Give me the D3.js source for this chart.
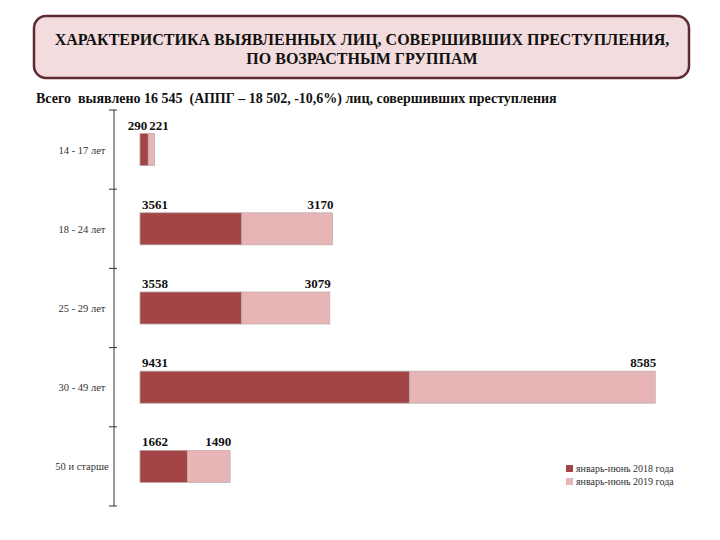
<!DOCTYPE html>
<html><head><meta charset="utf-8">
<script src="https://cdn.jsdelivr.net/npm/d3@7"></script>
<style>body{margin:0;background:#fff}svg{display:block}</style>
</head><body>
<svg id="c" width="720" height="540"></svg>
<script>
const categories = ["14 - 17 лет", "18 - 24 лет", "25 - 29 лет", "30 - 49 лет", "50 и старше"];
const values2018 = [290, 3561, 3558, 9431, 1662];
const values2019 = [221, 3170, 3079, 8585, 1490];
const seriesNames = ["январь-июнь 2018 года", "январь-июнь 2019 года"];
const titleLines = ["ХАРАКТЕРИСТИКА ВЫЯВЛЕННЫХ ЛИЦ, СОВЕРШИВШИХ ПРЕСТУПЛЕНИЯ,", "ПО ВОЗРАСТНЫМ ГРУППАМ"];
const subtitle = "Всего  выявлено 16 545  (АППГ – 18 502, -10,6%) лиц, совершивших преступления";

const colors = ["#a34447", "#e7b5b6"];
const serif = "'Liberation Serif','DejaVu Serif',serif";
const svg = d3.select("#c");

// Title box
svg.append("rect").attr("x", 34).attr("y", 16).attr("width", 655).attr("height", 62)
  .attr("rx", 12).attr("fill", "#f3dcdd").attr("stroke", "#5e2a2f").attr("stroke-width", 2.5);
svg.selectAll("text.title").data(titleLines).join("text").attr("class", "title")
  .attr("x", 362).attr("y", (d, i) => 45 + i * 19)
  .attr("text-anchor", "middle").attr("font-family", serif).attr("font-weight", "bold")
  .attr("font-size", 16).attr("fill", "#111").text(d => d);
svg.append("text").attr("x", 36).attr("y", 103).attr("font-family", serif)
  .attr("font-weight", "bold").attr("font-size", 14).attr("fill", "#111")
  .attr("xml:space", "preserve").style("white-space", "pre").text(subtitle);

// Scales
const x = d3.scaleLinear().domain([0, 20000]).range([140, 712]);
const y = d3.scaleBand().domain(categories).range([110, 506]).paddingInner(0).paddingOuter(0);
const barH = 32;

// Axis
const axisX = 114;
svg.append("line").attr("x1", axisX).attr("x2", axisX).attr("y1", 110).attr("y2", 506)
  .attr("stroke", "#333").attr("stroke-width", 1);
const boundaries = categories.map(c => y(c)).concat([y.range()[1]]);
svg.selectAll("line.tk").data(boundaries).join("line").attr("class", "tk")
  .attr("x1", axisX - 5).attr("x2", axisX + 3).attr("y1", d => d).attr("y2", d => d)
  .attr("stroke", "#333").attr("stroke-width", 1);
svg.selectAll("text.cat").data(categories).join("text").attr("class", "cat")
  .attr("x", 82).attr("y", d => y(d) + y.bandwidth() / 2 + 4)
  .attr("text-anchor", "middle").attr("font-family", serif).attr("font-size", 10.5)
  .attr("fill", "#333").text(d => d);

// Bars
const rows = categories.map((c, i) => ({c, a: values2018[i], b: values2019[i]}));
const g = svg.append("g");
rows.forEach(r => {
  const top = y(r.c) + (y.bandwidth() - barH) / 2;
  g.append("rect").attr("x", x(0)).attr("y", top).attr("width", x(r.a) - x(0)).attr("height", barH)
    .attr("fill", colors[0]).attr("stroke", "#b9a3a3").attr("stroke-width", 0.8);
  g.append("rect").attr("x", x(r.a)).attr("y", top).attr("width", x(r.a + r.b) - x(r.a)).attr("height", barH)
    .attr("fill", colors[1]).attr("stroke", "#c4b0b0").attr("stroke-width", 0.8);
  const narrow = x(r.a + r.b) - x(0) < 60;
  const ly = top - 4;
  const lab = (xx, anchor, t) => g.append("text").attr("x", xx).attr("y", ly).attr("text-anchor", anchor)
      .attr("font-family", serif).attr("font-weight", "bold").attr("font-size", 13).attr("fill", "#111").text(t);
  if (narrow) {
    const mid = (x(0) + x(r.a + r.b)) / 2;
    lab(mid, "end", r.a);
    lab(mid + 2, "start", r.b);
  } else {
    lab(x(0) + 2, "start", r.a);
    lab(x(r.a + r.b) + 1, "end", r.b);
  }
});

// Legend
const lg = svg.append("g").attr("transform", "translate(566,465)");
seriesNames.forEach((n, i) => {
  lg.append("rect").attr("x", 0).attr("y", i * 13).attr("width", 7).attr("height", 7).attr("fill", colors[i]);
  lg.append("text").attr("x", 10).attr("y", i * 13 + 7).attr("font-family", serif)
    .attr("font-size", 10).attr("fill", "#333").text(n);
});
</script>
</body></html>
